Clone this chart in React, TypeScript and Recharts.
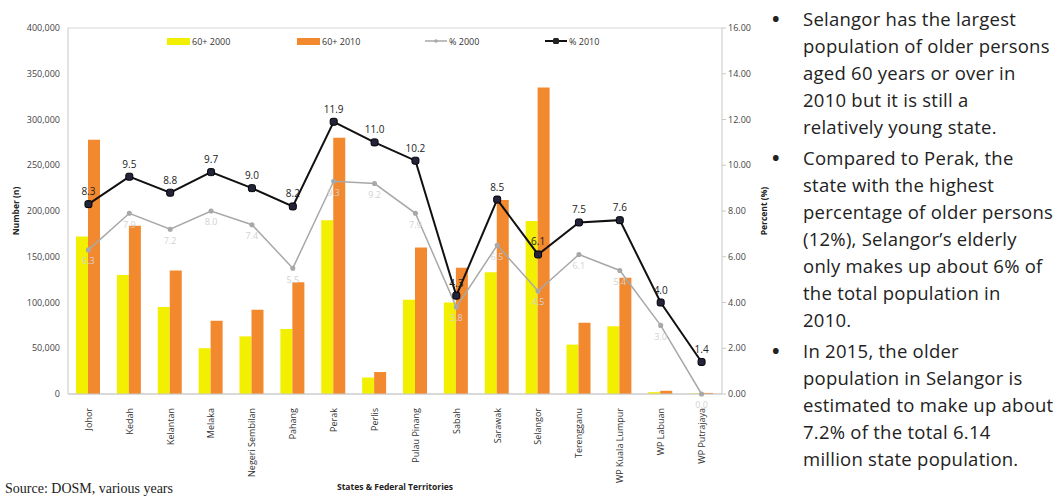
import React from 'react';
import {
  ComposedChart, Bar, Line, XAxis, YAxis, CartesianGrid, Legend, LabelList,
} from 'recharts';

const STATES = [
  'Johor', 'Kedah', 'Kelantan', 'Melaka', 'Negeri Sembilan', 'Pahang', 'Perak', 'Perlis',
  'Pulau Pinang', 'Sabah', 'Sarawak', 'Selangor', 'Terengganu', 'WP Kuala Lumpur', 'WP Labuan', 'WP Putrajaya',
];
const POP_2000 = [172000, 130000, 95000, 50000, 63000, 71000, 190000, 18000, 103000, 100000, 133000, 189000, 54000, 74000, 2000, 500];
const POP_2010 = [278000, 184000, 135000, 80000, 92000, 122000, 280000, 24000, 160000, 138000, 212000, 335000, 78000, 127000, 3500, 1200];
const PCT_2000 = [6.3, 7.9, 7.2, 8.0, 7.4, 5.5, 9.3, 9.2, 7.9, 3.8, 6.5, 4.5, 6.1, 5.4, 3.0, 0.0];
const PCT_2010 = [8.3, 9.5, 8.8, 9.7, 9.0, 8.2, 11.9, 11.0, 10.2, 4.3, 8.5, 6.1, 7.5, 7.6, 4.0, 1.4];
const LEFT_TICKS = [0, 50000, 100000, 150000, 200000, 250000, 300000, 350000, 400000];
const RIGHT_TICKS = [0, 2, 4, 6, 8, 10, 12, 14, 16];

const BULLETS = [
  ['Selangor has the largest', 'population of older persons', 'aged 60 years or over in', '2010 but it is still a', 'relatively young state.'],
  ['Compared to Perak, the', 'state with the highest', 'percentage of older persons', '(12%), Selangor\u2019s elderly', 'only makes up about 6% of', 'the total population in', '2010.'],
  ['In 2015, the older', 'population in Selangor is', 'estimated to make up about', '7.2% of the total 6.14', 'million state population.'],
];

const data = STATES.map((s, i) => ({
  state: s,
  p2000: POP_2000[i],
  p2010: POP_2010[i],
  c2000: PCT_2000[i],
  c2010: PCT_2010[i],
}));

const YELLOW = '#f3ef00';
const ORANGE = '#f3892f';
const FONT = '"Open Sans", "Noto Sans", sans-serif';

const fmtNum = (v: number) => v.toLocaleString('en-US');

function LegendBox() {
  const item = (x: number, kind: string, label: string) => (
    <div style={{ position: 'absolute', left: x, top: 0, display: 'flex', alignItems: 'center', height: 14 }}>
      {kind === 'y' && <div style={{ width: 23, height: 7, background: YELLOW }} />}
      {kind === 'o' && <div style={{ width: 23, height: 7, background: ORANGE }} />}
      {kind === 'g' && (
        <svg width={22} height={10}><line x1={0} y1={5} x2={22} y2={5} stroke="#a8a8a8" strokeWidth={1.5} /><circle cx={11} cy={5} r={1.8} fill="#a8a8a8" /></svg>
      )}
      {kind === 'b' && (
        <svg width={22} height={10}><line x1={0} y1={5} x2={22} y2={5} stroke="#111" strokeWidth={2} /><rect x={8} y={2} width={6} height={6} rx={1.5} fill="#222" /></svg>
      )}
      <span style={{ marginLeft: 2, fontSize: 9, color: '#333', fontFamily: FONT }}>{label}</span>
    </div>
  );
  return (
    <div style={{ position: 'relative', width: 600, height: 14 }}>
      {item(99, 'y', '60+ 2000')}
      {item(229, 'o', '60+ 2010')}
      {item(357, 'g', '% 2000')}
      {item(477, 'b', '% 2010')}
    </div>
  );
}

const Marker2010 = (props: any) => {
  const { cx, cy } = props;
  if (cx == null || cy == null) return null;
  return <rect x={cx - 3.5} y={cy - 3.5} width={7} height={7} rx={2} fill="#23233a" stroke="#000" strokeWidth={1} />;
};

export default function App() {
  return (
    <div style={{ position: 'absolute', left: 0, top: 0, width: 1063, height: 498, background: '#fff', overflow: 'hidden' }}>
      <ComposedChart
        width={790}
        height={498}
        data={data}
        margin={{ top: 14, right: 18, bottom: 14, left: 0 }}
        barGap={0}
        style={{ fontFamily: FONT }}
      >
        <CartesianGrid vertical={false} stroke="#d6d6d6" />
        <XAxis
          dataKey="state"
          interval={0}
          height={90}
          tickLine={false}
          axisLine={{ stroke: '#c8c8c8' }}
          tick={{ fontSize: 9, fill: '#333', angle: -90, textAnchor: 'end', dx: -3, dy: 6 } as any}
          label={{ value: 'States & Federal Territories', position: 'insideBottom', offset: -6, fontSize: 8.5, fontWeight: 700, fill: '#222' }}
        />
        <YAxis
          yAxisId="left"
          width={68}
          domain={[0, 400000]}
          ticks={LEFT_TICKS}
          tickFormatter={fmtNum}
          tickLine={false}
          axisLine={{ stroke: '#c8c8c8' }}
          tick={{ fontSize: 9, fill: '#444' }}
          label={{ value: 'Number (n)', angle: -90, position: 'insideLeft', offset: 16, fontSize: 8.5, fontWeight: 700, fill: '#222', style: { textAnchor: 'middle' } }}
        />
        <YAxis
          yAxisId="right"
          orientation="right"
          width={50}
          domain={[0, 16]}
          ticks={RIGHT_TICKS}
          tickFormatter={(v: number) => v.toFixed(2)}
          tickLine={{ stroke: '#c8c8c8' }}
          tickSize={4}
          axisLine={{ stroke: '#c8c8c8' }}
          tick={{ fontSize: 9, fill: '#444' }}
          label={{ value: 'Percent (%)', angle: -90, position: 'insideRight', offset: 8, fontSize: 8.5, fontWeight: 700, fill: '#222', style: { textAnchor: 'middle' } }}
        />
        <Legend verticalAlign="top" align="left" content={() => <LegendBox />} wrapperStyle={{ top: 34, left: 68 }} />
        <Bar yAxisId="left" dataKey="p2000" name="60+ 2000" fill={YELLOW} barSize={12} isAnimationActive={false} />
        <Bar yAxisId="left" dataKey="p2010" name="60+ 2010" fill={ORANGE} barSize={12} isAnimationActive={false} />
        <Line
          yAxisId="right"
          dataKey="c2000"
          name="% 2000"
          stroke="#a8a8a8"
          strokeWidth={1.5}
          dot={{ r: 1.8, fill: '#a8a8a8', stroke: '#a8a8a8' }}
          isAnimationActive={false}
        >
          <LabelList dataKey="c2000" position="bottom" offset={8} fontSize={9} fill="#d2d2d2" formatter={(v: any) => Number(v).toFixed(1)} />
        </Line>
        <Line
          yAxisId="right"
          dataKey="c2010"
          name="% 2010"
          stroke="#111"
          strokeWidth={2}
          dot={<Marker2010 />}
          isAnimationActive={false}
        >
          <LabelList dataKey="c2010" position="top" offset={9} fontSize={10} fill="#222" formatter={(v: any) => Number(v).toFixed(1)} />
        </Line>
      </ComposedChart>

      <div style={{ position: 'absolute', left: 5, top: 481, fontFamily: '"Liberation Serif", "DejaVu Serif", serif', fontSize: 14, color: '#222' }}>
        Source: DOSM, various years
      </div>

      <div style={{ position: 'absolute', left: 770, top: 5, width: 293, fontFamily: FONT, fontSize: 18.5, letterSpacing: 0.25, color: '#222', lineHeight: '27px' }}>
        {BULLETS.map((lines, gi) => (
          <div key={gi} style={{ position: 'relative', paddingLeft: 33, marginBottom: 4 }}>
            <span style={{ position: 'absolute', left: 2, top: 0, fontSize: 20, fontWeight: 700 }}>{'\u2022'}</span>
            {lines.map((l, li) => (
              <div key={li} style={{ whiteSpace: 'nowrap' }}>{l}</div>
            ))}
          </div>
        ))}
      </div>
    </div>
  );
}
